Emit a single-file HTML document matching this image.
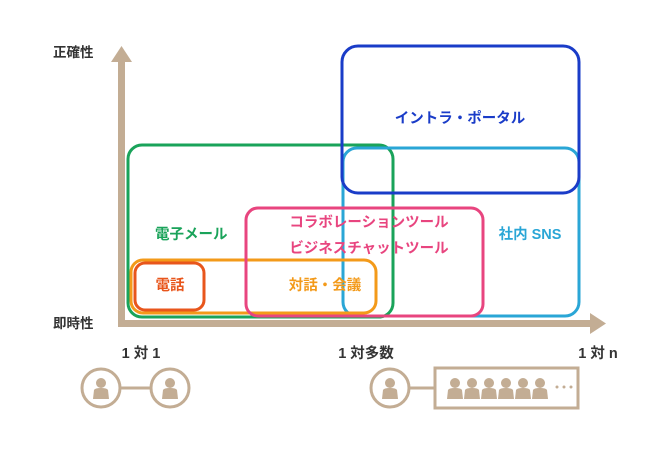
<!DOCTYPE html>
<html><head><meta charset="utf-8"><style>
html,body{margin:0;padding:0;background:#fff;}
svg{display:block;font-family:"Liberation Sans","Noto Sans CJK JP",sans-serif;font-weight:bold;}
</style></head><body>
<svg width="670" height="454" viewBox="0 0 670 454" xmlns="http://www.w3.org/2000/svg">
<g fill="#c3ad94">
<rect x="118" y="60" width="7" height="267"/>
<polygon points="121.5,46 111,62 132,62"/>
<rect x="118" y="320" width="475" height="7"/>
<polygon points="606,323.5 590,313 590,334"/>
</g>
<g fill="none" stroke-width="3">
<rect x="128" y="145" width="265" height="172" rx="14" stroke="#1aa35a"/>
<rect x="343" y="148" width="236" height="168" rx="14" stroke="#2aa6d6"/>
<rect x="342" y="46" width="237" height="147" rx="16" stroke="#1a3cc8"/>
<rect x="131" y="260" width="245" height="53" rx="12" stroke="#f39a1a"/>
<rect x="135" y="263" width="69" height="47" rx="10" stroke="#e8561c"/>
<rect x="246" y="208" width="237" height="108" rx="12" stroke="#e8457f"/>
</g>
<g font-size="14.5">
<text x="53" y="57" fill="#333" font-size="13.5">正確性</text>
<text x="53" y="328" fill="#333" font-size="13.5">即時性</text>
<text x="460" y="123" fill="#1a3cc8" text-anchor="middle">イントラ・ポータル</text>
<text x="155" y="239" fill="#1aa35a">電子メール</text>
<text x="369" y="227" fill="#e8457f" text-anchor="middle">コラボレーションツール</text>
<text x="369" y="253" fill="#e8457f" text-anchor="middle">ビジネスチャットツール</text>
<text x="530" y="239" fill="#2aa6d6" text-anchor="middle">社内 SNS</text>
<text x="170" y="290" fill="#e8561c" text-anchor="middle">電話</text>
<text x="325" y="290" fill="#f39a1a" text-anchor="middle">対話・会議</text>
<text x="141" y="358" fill="#333" text-anchor="middle">1 対 1</text>
<text x="366" y="358" fill="#333" text-anchor="middle">1 対多数</text>
<text x="598" y="358" fill="#333" text-anchor="middle">1 対 n</text>
</g>
<defs>
<g id="p" fill="#c3ad94"><circle cx="0" cy="-6" r="5"/><path d="M-8,10 L-7,1 Q-6,-1 0,-1 Q6,-1 7,1 L8,10 Z"/></g>
</defs>
<g stroke="#c3ad94" stroke-width="3" fill="none">
<circle cx="101" cy="388" r="19"/><circle cx="170" cy="388" r="19"/>
<line x1="120" y1="388" x2="151" y2="388"/>
<circle cx="390" cy="388" r="19"/>
<line x1="409" y1="388" x2="435" y2="388"/>
<rect x="435" y="368" width="143" height="40"/>
</g>
<use href="#p" x="101" y="389"/><use href="#p" x="170" y="389"/><use href="#p" x="390" y="389"/>
<use href="#p" x="455" y="389"/><use href="#p" x="472" y="389"/><use href="#p" x="489" y="389"/>
<use href="#p" x="506" y="389"/><use href="#p" x="523" y="389"/><use href="#p" x="540" y="389"/>
<g fill="#c3ad94"><circle cx="557" cy="387" r="1.5"/><circle cx="564" cy="387" r="1.5"/><circle cx="571" cy="387" r="1.5"/></g>
</svg>
</body></html>
